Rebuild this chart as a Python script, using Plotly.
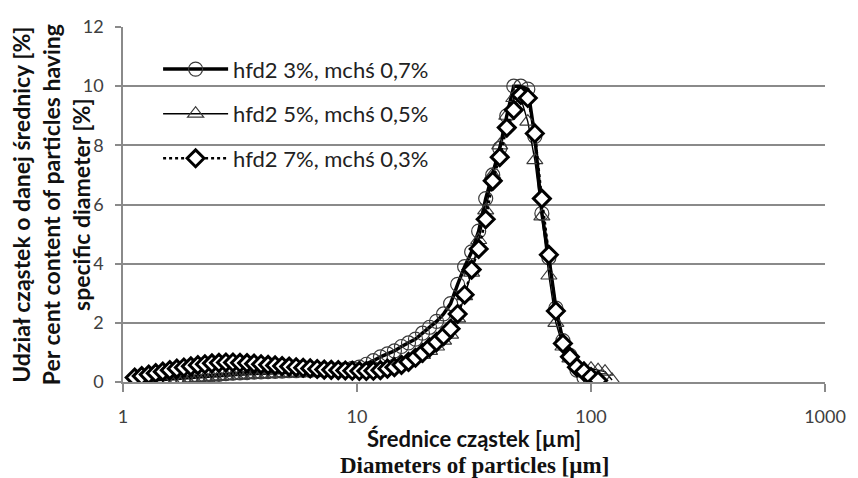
import plotly.graph_objects as go

diameters_um = [
    1.122, 1.202, 1.288, 1.380, 1.479, 1.585, 1.698, 1.820, 1.950, 2.089,
    2.239, 2.399, 2.570, 2.754, 2.951, 3.162, 3.388, 3.631, 3.890, 4.169,
    4.467, 4.786, 5.129, 5.495, 5.888, 6.310, 6.761, 7.244, 7.762, 8.318,
    8.913, 9.550, 10.23, 10.96, 11.75, 12.59, 13.49, 14.45, 15.49, 16.60,
    17.78, 19.05, 20.42, 21.88, 23.44, 25.12, 26.92, 28.84, 30.90, 33.11,
    35.48, 38.02, 40.74, 43.65, 46.77, 50.12, 53.70, 57.54, 61.66, 66.07,
    70.79, 75.86, 81.28, 87.10, 93.33, 100.0, 107.2, 114.8, 123.0,
]

hfd2_3 = [
    None, None, 0.05, 0.08, 0.10, 0.12, 0.14, 0.16, 0.18, 0.20,
    0.22, 0.24, 0.26, 0.28, 0.30, 0.31, 0.32, 0.33, 0.34, 0.35,
    0.36, 0.37, 0.38, 0.38, 0.39, 0.39, 0.40, 0.40, 0.41, 0.42,
    0.43, 0.46, 0.50, 0.60, 0.72, 0.85, 0.95, 1.05, 1.20, 1.32,
    1.45, 1.65, 1.85, 2.05, 2.30, 2.65, 3.30, 3.90, 4.40, 5.10,
    6.20, 7.00, 7.90, 9.00, 10.0, 10.0, 9.90, 8.30, 5.70, 4.20,
    2.50, 1.40, 0.90, 0.40, 0.15, 0.07, None, None, None,
]

hfd2_5 = [
    None, None, None, None, 0.05, 0.07, 0.09, 0.10, 0.12, 0.14,
    0.15, 0.17, 0.18, 0.20, 0.21, 0.22, 0.24, 0.25, 0.26, 0.27,
    0.28, 0.29, 0.30, 0.31, 0.32, 0.32, 0.33, 0.33, 0.34, 0.34,
    0.34, 0.35, 0.35, 0.38, 0.40, 0.45, 0.50, 0.55, 0.62, 0.70,
    0.80, 0.92, 1.05, 1.20, 1.40, 1.60, 2.15, 2.90, 3.70, 4.80,
    5.80, 7.00, 8.00, 9.00, 9.60, 9.60, 8.80, 7.50, 5.60, 3.60,
    2.00, 1.20, 0.80, 0.55, 0.45, 0.45, 0.40, 0.35, 0.07,
]

hfd2_7 = [
    0.15, 0.20, 0.25, 0.30, 0.35, 0.40, 0.45, 0.49, 0.53, 0.57,
    0.60, 0.63, 0.65, 0.66, 0.66, 0.65, 0.64, 0.62, 0.60, 0.58,
    0.56, 0.54, 0.52, 0.50, 0.48, 0.46, 0.44, 0.42, 0.41, 0.40,
    0.39, 0.38, 0.37, 0.37, 0.38, 0.40, 0.45, 0.50, 0.58, 0.68,
    0.82, 0.98, 1.17, 1.35, 1.55, 1.80, 2.30, 2.95, 3.80, 4.50,
    5.50, 6.80, 7.60, 8.60, 9.20, 9.70, 9.60, 8.40, 6.20, 4.30,
    2.40, 1.30, 0.85, 0.50, 0.35, 0.17, 0.05, None, None,
]

series_names = ["hfd2 3%, mchś 0,7%", "hfd2 5%, mchś 0,5%", "hfd2 7%, mchś 0,3%"]
x_ticks = [1, 10, 100, 1000]
x_tick_labels = ["1", "10", "100", "1000"]
y_ticks = [0, 2, 4, 6, 8, 10, 12]

SANS = "Lato, 'Open Sans', sans-serif"
GRID = "#8a8a8a"
TICKC = "#404040"

fig = go.Figure()
fig.add_trace(go.Scatter(
    x=diameters_um, y=hfd2_3, name=series_names[0], mode="lines+markers",
    line=dict(color="black", width=3.5), legendgroup="a",
    marker=dict(symbol="circle-open", size=14, color="#3a3a3a", line=dict(width=1.2)),
))
fig.add_trace(go.Scatter(
    x=diameters_um, y=hfd2_5, name=series_names[1], mode="lines+markers",
    line=dict(color="black", width=1.4), legendgroup="b",
    marker=dict(symbol="triangle-up-open", size=14, color="#3a3a3a", line=dict(width=1.2)),
))
fig.add_trace(go.Scatter(
    x=diameters_um, y=hfd2_7, name=series_names[2], mode="lines+markers",
    line=dict(color="black", width=2.5, dash="dot"), legendgroup="c",
    marker=dict(symbol="diamond", size=13, color="white", line=dict(width=3, color="black")),
))

fig.update_layout(
    width=858, height=478,
    margin=dict(l=123, r=28, t=27, b=96),
    paper_bgcolor="white", plot_bgcolor="white",
    font=dict(family=SANS, size=18, color="#222"),
    showlegend=True,
    legend=dict(
        x=0.05, y=0.94, xanchor="left", yanchor="top",
        bgcolor="rgba(0,0,0,0)", borderwidth=0,
        font=dict(family=SANS, size=22, color="#222"),
        itemwidth=65, tracegroupgap=13, traceorder="grouped",
    ),
    xaxis=dict(
        type="log", range=[0, 3],
        tickmode="array", tickvals=x_ticks, ticktext=x_tick_labels,
        showgrid=False, showline=True, linecolor=GRID, linewidth=1.5,
        ticks="outside", ticklen=8, tickcolor=GRID, tickwidth=1.5,
        tickfont=dict(family=SANS, size=18, color=TICKC),
        ticklabelstandoff=10, zeroline=False,
    ),
    yaxis=dict(
        range=[0, 12], tickmode="array", tickvals=y_ticks,
        showgrid=True, gridcolor=GRID, gridwidth=1.5,
        showline=True, linecolor=GRID, linewidth=1.5,
        ticks="outside", ticklen=6, tickcolor=GRID, tickwidth=1.5,
        tickfont=dict(family=SANS, size=18, color=TICKC),
        ticklabelstandoff=8, zeroline=False,
    ),
)

fig.add_annotation(
    xref="paper", yref="paper", x=-0.103, y=0.5, xanchor="center", yanchor="middle",
    textangle=-90, showarrow=False, align="center",
    text="<b>Udział cząstek o danej średnicy [%]<br>Per cent content of particles having<br>specific diameter [%]</b>",
    font=dict(family=SANS, size=23, color="#111"),
)
fig.add_annotation(
    xref="paper", yref="paper", x=0.5, y=-0.16, xanchor="center", yanchor="middle",
    showarrow=False, text="<b>Średnice cząstek [µm]</b>",
    font=dict(family=SANS, size=22, color="#111"),
)
fig.add_annotation(
    xref="paper", yref="paper", x=0.5, y=-0.236, xanchor="center", yanchor="middle",
    showarrow=False, text="<b>Diameters of particles [µm]</b>",
    font=dict(family="'Liberation Serif', 'DejaVu Serif', serif", size=23, color="#111"),
)

fig.write_html(
    "out.html",
    config={"displayModeBar": False},
    post_script="document.body.style.margin='0';document.body.style.overflow='hidden';",
)
